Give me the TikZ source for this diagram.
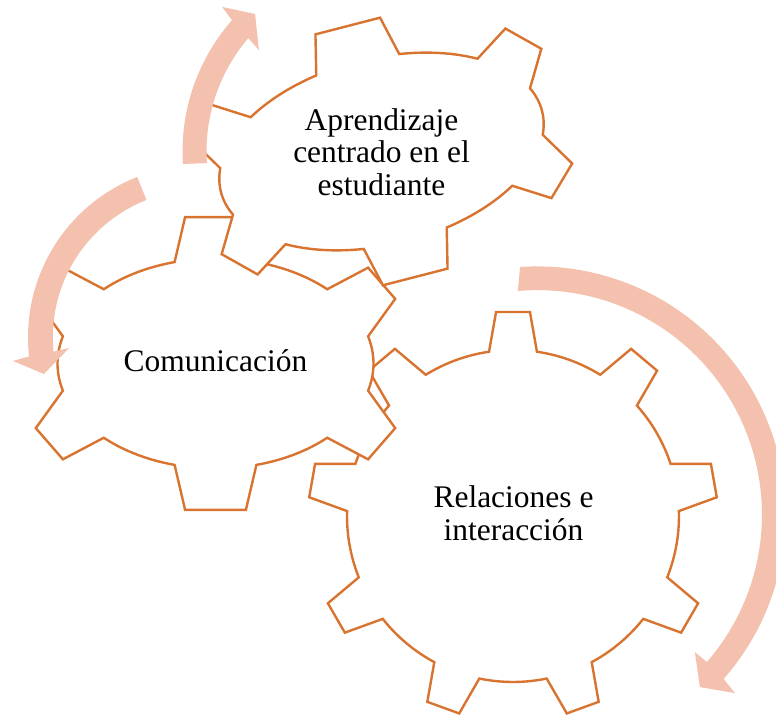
\documentclass[tikz,border=0pt]{standalone}
\usepackage{fontspec}
\setmainfont{Liberation Serif}
\definecolor{gearorange}{RGB}{216,116,48}
\definecolor{arrowpink}{RGB}{244,193,174}
\tikzset{
  gearline/.style={draw=gearorange, line width=1.8pt, fill=white, line join=miter},
  cyclearrow/.style={fill=arrowpink, draw=none},
  gearlabel/.style={font=\fontsize{23.6}{24.4}\selectfont, align=center, inner sep=0pt, text=black},
}
\newcommand\gearN{(100*sqrt((\ga/100*sin(\ang))^2+(\gb/100*cos(\ang))^2))}
\newcommand\gearshape{({\ga*cos(\gfirst-\gs)},{\gb*sin(\gfirst-\gs)})
  \foreach \ang in \glist {
    -- ({\ga*cos(\ang-\gs)+(\gh*\gb*cos(\ang)-\gd*\ga*sin(\ang))/\gearN},{\gb*sin(\ang-\gs)+(\gh*\ga*sin(\ang)+\gd*\gb*cos(\ang))/\gearN})
    -- ({\ga*cos(\ang+\gs)+(\gh*\gb*cos(\ang)+\gd*\ga*sin(\ang))/\gearN},{\gb*sin(\ang+\gs)+(\gh*\ga*sin(\ang)-\gd*\gb*cos(\ang))/\gearN})
    -- plot[domain=\ang+\gs:\ang+\gstep-\gs, samples=14] ({\ga*cos(\x)},{\gb*sin(\x)})
  } -- cycle}
\begin{document}
\begin{tikzpicture}[x=0.75pt,y=0.75pt]
\useasboundingbox (0,0) rectangle (776,717);
\fill[white] (0,0) rectangle (776,717);

% Relaciones e interaccion gear (9 teeth)
\begin{scope}[shift={(513,201)}]
  \def\ga{166}\def\gb{166}\def\gh{39.7}\def\gd{7}\def\gs{8.3}\def\gstep{40}
  \def\gfirst{90}\def\glist{90,130,170,210,250,290,330,370,410}
  \draw[gearline] \gearshape;
\end{scope}

% Comunicacion gear (6 teeth)
\begin{scope}[shift={(215.5,353.5)}]
  \def\ga{158}\def\gb{105}\def\gh{45}\def\gd{10.5}\def\gs{15}\def\gstep{60}
  \def\gfirst{30}\def\glist{30,90,150,210,270,330}
  \draw[gearline] \gearshape;
\end{scope}

% Aprendizaje gear (6 teeth, rotated)
\begin{scope}[shift={(381.5,565.5)}, rotate=14.07]
  \def\ga{165.6}\def\gb{93.1}\def\gh{40}\def\gd{9.5}\def\gs{15}\def\gstep{60}
  \def\gfirst{30.7}\def\glist{30.7,90.7,150.7,210.7,270.7,330.7}
  \draw[gearline] \gearshape;
\end{scope}

\node[gearlabel] (aprend) at (381.5,565.2) {Aprendizaje\\centrado en el\\estudiante};
\node[gearlabel, anchor=base] (comun) at (215.5,345) {Comunicación};
\node[gearlabel] (relac) at (513.5,203.5) {Relaciones e\\interacción};

% circular arrows
\begin{scope}[shift={(381.5,565.5)}]
  \fill[cyclearrow] (183.6:199) -- plot[domain=183.6:138.7, samples=30] (\x:199)
    -- (137.8:215.2) -- (132.6:186.8) -- (140.4:159.1) -- (139.6:175)
    -- plot[domain=139.6:183.8, samples=30] (\x:175) -- cycle;
\end{scope}
\begin{scope}[shift={(200.3,379.7)}]
  \fill[cyclearrow] (111.5:172.3) -- plot[domain=111.5:186.4, samples=40] (\x:172.3)
    -- (187.2:188.8) -- (193.2:160.6) -- (184.7:131.7) -- (185.6:147.5)
    -- plot[domain=185.6:111.4, samples=40] (\x:147.5) -- cycle;
\end{scope}
\begin{scope}[shift={(537.4,202.3)}]
  \fill[cyclearrow] (94.0:248.3) -- plot[domain=94:-41.4, samples=60] (\x:248.3)
    -- (-42.1:266.1) -- (-46.7:236.9) -- (-41.1:209) -- (-41.0:224.6)
    -- plot[domain=-41:95, samples=60] (\x:224.6) -- cycle;
\end{scope}
\end{tikzpicture}
\end{document}
